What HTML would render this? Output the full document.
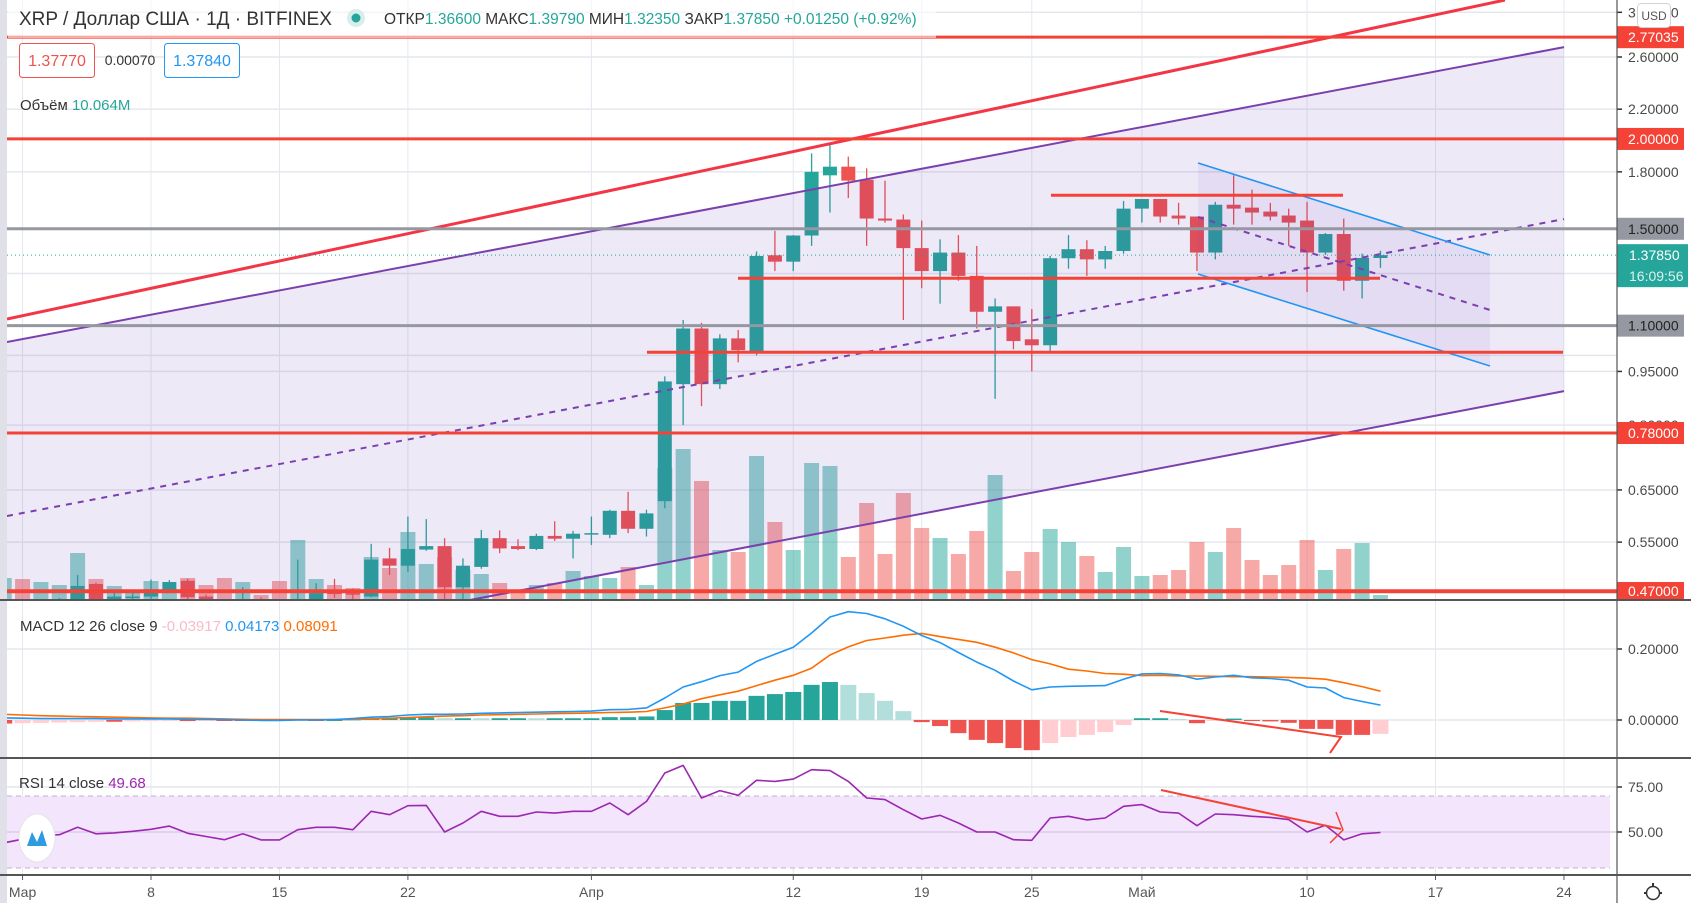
<!DOCTYPE html>
<html><head><meta charset="utf-8">
<style>
html,body{margin:0;padding:0;background:#fff;overflow:hidden}
svg{display:block;font-family:"Liberation Sans","DejaVu Sans",sans-serif}
</style></head>
<body>
<svg id="chart" width="1691" height="903" viewBox="0 0 1691 903" xmlns="http://www.w3.org/2000/svg">
  <defs>
    <clipPath id="mainClip"><rect x="7" y="0" width="1610" height="600"/></clipPath>
    <clipPath id="macdClip"><rect x="7" y="601" width="1610" height="157"/></clipPath>
    <clipPath id="rsiClip"><rect x="7" y="759" width="1610" height="116"/></clipPath>
  </defs>
  <rect x="0" y="0" width="1691" height="903" fill="#ffffff"/>
  <rect x="0" y="0" width="7" height="903" fill="#dfe0e8"/>
  <g id="gridLayer"></g>
  <g clip-path="url(#mainClip)">
    <g id="volLayer"></g>
    <g id="candleLayer"></g>
    <g id="drawLayer"></g>
  </g>
  <g clip-path="url(#macdClip)">
    <g id="macdLayer"></g>
  </g>
  <g clip-path="url(#rsiClip)">
    <g id="rsiLayer"></g>
  </g>
  <rect x="8" y="0" width="928" height="38" fill="#ffffff" opacity="0.55"/>
  <text x="19" y="25" font-size="19" fill="#333">XRP / Доллар США · 1Д · BITFINEX</text>
  <circle cx="356" cy="18" r="9" fill="#d9eeec"/>
  <circle cx="356" cy="18" r="4.5" fill="#26a69a"/>
  <text x="384" y="24" font-size="15.5" fill="#333">ОТКР<tspan fill="#26a69a">1.36600</tspan> МАКС<tspan fill="#26a69a">1.39790</tspan> МИН<tspan fill="#26a69a">1.32350</tspan> ЗАКР<tspan fill="#26a69a">1.37850</tspan> <tspan fill="#26a69a">+0.01250 (+0.92%)</tspan></text>
  <rect x="19.5" y="43.5" width="75" height="34" rx="3" fill="#fff" stroke="#ef5350"/>
  <text x="57" y="66" font-size="16" fill="#ef5350" text-anchor="middle">1.37770</text>
  <text x="130" y="65" font-size="14" fill="#333" text-anchor="middle">0.00070</text>
  <rect x="164.5" y="43.5" width="75" height="34" rx="3" fill="#fff" stroke="#2196f3"/>
  <text x="202" y="66" font-size="16" fill="#2196f3" text-anchor="middle">1.37840</text>
  <text x="20" y="110" font-size="15" fill="#333">Объём <tspan fill="#26a69a">10.064M</tspan></text>
  <text x="20" y="631" font-size="15" fill="#333">MACD 12 26 close 9 <tspan fill="#f8bbc8">-0.03917</tspan> <tspan fill="#2196f3">0.04173</tspan> <tspan fill="#ff6d00">0.08091</tspan></text>
  <text x="19" y="788" font-size="15" fill="#333">RSI 14 close <tspan fill="#9c27b0">49.68</tspan></text>
  <ellipse cx="37" cy="838" rx="18" ry="24" fill="#fff" stroke="#e4e4ea"/>
  <path d="M27 846 L32 832 L37 842 L42 830 L47 846 Z" fill="#2e9ae0"/>
  <rect x="1617" y="0" width="74" height="903" fill="#fff"/>
  <g id="axisLayer"></g>
  <line x1="1617" y1="0" x2="1617" y2="903" stroke="#555" stroke-width="1.2"/>
  <line x1="0" y1="600" x2="1691" y2="600" stroke="#555" stroke-width="2"/>
  <line x1="0" y1="758" x2="1691" y2="758" stroke="#555" stroke-width="2"/>
  <line x1="0" y1="875" x2="1691" y2="875" stroke="#555" stroke-width="2"/>
  <g id="timeLayer"></g>
  <rect x="1637.5" y="3.5" width="33" height="24" rx="4" fill="#fff" stroke="#d0d3da"/>
  <text x="1654" y="20" font-size="12" fill="#555" text-anchor="middle">USD</text>
  <g>
    <circle cx="1653" cy="893" r="6.5" fill="none" stroke="#333" stroke-width="1.5"/>
    <line x1="1653" y1="883" x2="1653" y2="886" stroke="#333" stroke-width="2"/>
    <line x1="1644" y1="893" x2="1646" y2="893" stroke="#333" stroke-width="2"/>
    <line x1="1660" y1="893" x2="1662" y2="893" stroke="#333" stroke-width="2"/>
  </g>
</svg>
<script>
const firstDay = -1;
const opens  = [.445,.450,.447,.452,.455,.481,.455,.460,.462,.472,.486,.462,.455,.448,.458,.450,.440,.456,.468,.467,.462,.522,.510,.537,.543,.476,.508,.557,.543,.538,.561,.556,.564,.563,.608,.574,.627,.912,1.09,.912,1.056,1.007,1.378,1.35,1.468,1.78,1.83,1.755,1.55,1.545,1.41,1.31,1.39,1.29,1.15,1.17,1.053,1.033,1.365,1.405,1.36,1.397,1.60,1.65,1.565,1.56,1.39,1.62,1.605,1.585,1.565,1.54,1.39,1.475,1.27,1.366];
const closes = [.450,.447,.452,.455,.478,.455,.462,.462,.473,.484,.461,.456,.450,.452,.456,.445,.458,.467,.466,.465,.520,.510,.538,.543,.476,.510,.557,.539,.538,.561,.556,.565,.566,.608,.574,.603,.920,1.09,.912,1.056,1.017,1.375,1.35,1.468,1.80,1.83,1.75,1.55,1.54,1.41,1.31,1.39,1.29,1.15,1.17,1.047,1.033,1.365,1.405,1.36,1.397,1.60,1.65,1.56,1.55,1.39,1.62,1.60,1.58,1.56,1.53,1.39,1.475,1.27,1.366,1.3785];
const highs  = [.456,.455,.458,.460,.495,.483,.472,.470,.488,.487,.489,.465,.458,.476,.461,.455,.520,.482,.489,.474,.547,.540,.597,.592,.557,.522,.572,.571,.555,.565,.588,.570,.597,.610,.646,.610,.935,1.12,1.11,1.07,1.085,1.395,1.49,1.47,1.91,1.97,1.89,1.82,1.75,1.57,1.54,1.45,1.47,1.42,1.20,1.17,1.16,1.375,1.47,1.446,1.42,1.64,1.65,1.65,1.63,1.56,1.635,1.78,1.70,1.63,1.60,1.635,1.48,1.55,1.385,1.398];
const lows   = [.440,.440,.440,.445,.450,.450,.450,.450,.455,.468,.455,.450,.440,.440,.445,.440,.430,.453,.460,.455,.461,.495,.500,.535,.455,.455,.505,.531,.536,.536,.552,.522,.545,.557,.566,.560,.613,.80,.85,.898,.978,1.0,1.31,1.31,1.42,1.58,1.655,1.42,1.53,1.12,1.24,1.18,1.27,1.09,.87,1.02,.95,1.01,1.32,1.29,1.32,1.385,1.53,1.53,1.52,1.31,1.36,1.52,1.52,1.54,1.42,1.225,1.38,1.23,1.20,1.3235];
const volumes = [44,42,36,30,94,42,28,20,38,22,44,30,44,36,10,38,120,42,30,24,86,64,136,72,86,60,52,34,20,30,34,58,48,44,66,30,264,302,238,100,96,288,156,100,274,268,86,194,92,214,144,124,92,138,250,58,96,142,116,88,56,106,48,50,60,116,96,144,80,50,70,120,60,102,114,10.064];
const macdLine = [0.006,0.005,0.004,0.004,0.004,0.004,0.003,0.003,0.003,0.003,0.002, 0.002,0.001,0.000,-0.001,-0.001,0.000,0.000,0.001, 0.004,0.008,0.010,0.014,0.016,0.016,0.017,0.019,0.020,0.021,0.022,0.023,0.024,0.025,0.029,0.030, 0.034,0.062,0.093,0.108,0.125,0.135,0.165,0.185,0.205,0.245,0.290,0.305,0.300,0.285,0.264,0.238,0.218,0.190,0.163,0.140,0.110, 0.085,0.093,0.095,0.096,0.097,0.115,0.130,0.131,0.127,0.115,0.121,0.126,0.119,0.117,0.112,0.093,0.090,0.063,0.052,0.042];
const signalLine = [0.016,0.014,0.012,0.011,0.010,0.009,0.008,0.007,0.006,0.005,0.005, 0.004,0.003,0.002,0.001,0.001,0.001,0.001,0.001, 0.002,0.003,0.005,0.007,0.009,0.011,0.012,0.014,0.015,0.016,0.017,0.018,0.019,0.020,0.021,0.022, 0.024,0.034,0.045,0.060,0.071,0.081,0.097,0.112,0.126,0.146,0.183,0.206,0.224,0.231,0.239,0.244,0.235,0.227,0.219,0.205,0.189, 0.170,0.158,0.143,0.138,0.131,0.129,0.125,0.126,0.124,0.124,0.123,0.122,0.122,0.121,0.120,0.118,0.115,0.105,0.094,0.081];
const rsiValues = [44,46,48,48.5,52.6,49,49.5,50.4,51.5,53.3,49.3,47.5,45.7,49,45.6,45.6,51.3,52.6,52.6,51.3,61.5,59.6,64.6,64.8,50,55,61.5,58.7,58.7,61.1,60.5,61.5,61.5,66.1,59.6,67,82.8,87,68.9,73,70.4,78.7,78.1,79.4,84.6,84.1,78.1,68.9,68,62.4,57.2,59.3,55,50,50,45.7,45.4,57.8,58.7,56.7,57.8,64.3,65.2,61.1,60.5,53.5,60,59.6,58.7,58.1,56.9,50,53.7,45.6,49,49.7];
const priceGrid = [3.0,2.6,2.2,1.8,1.3,1.0,0.95,0.8,0.65,0.55];
const priceTickLabels = ["2.60000","2.20000","1.80000","0.95000","0.65000","0.55000"];
const priceTickValues = [2.6,2.2,1.8,0.95,0.65,0.55];
const levelValues = [2.77035,2.0,1.5,1.1,0.78,0.47];
const levelLabels = ["2.77035","2.00000","1.50000","1.10000","0.78000","0.47000"];
const levelKinds = ["red","red","gray","gray","red","red"];
const macdTickValues = [0.2,0.0];
const macdTickLabels = ["0.20000","0.00000"];
const rsiTickValues = [75,50];
const rsiTickLabels = ["75.00","50.00"];
const timeLabels = ["Мар","8","15","22","Апр","12","19","25","Май","10","17","24"];
const timeDays = [0,7,14,21,31,42,49,55,61,70,77,84];
const lastPrice = 1.3785;

const NS = "http://www.w3.org/2000/svg";
function xd(d){ return 151 + (d - 7) * 18.35; }
function yP(p){ return 57 + (Math.log(2.6) - Math.log(p)) * 312.3; }
function yM(v){ return 720 - v * 355; }
function yR(r){ return 832 - (r - 50) * 1.8; }
function yV(v){ return 600 - v * 0.5; }
function mk(tag, attrs, parent){
  const e = document.createElementNS(NS, tag);
  for (const k in attrs) e.setAttribute(k, attrs[k]);
  parent.appendChild(e);
  return e;
}
const G = id => document.getElementById(id);

const grid = G('gridLayer');
timeDays.forEach(d => {
  const l = mk('line', {x1: xd(d), x2: xd(d), y1: 0, y2: 875, stroke: '#e4e8ee', 'stroke-width': 1}, grid);
  
  
});
priceGrid.forEach(p => {
  const l = mk('line', {x1: 7, x2: 1617, y1: yP(p), y2: yP(p), stroke: '#e4e8ee', 'stroke-width': 1.5}, grid);
  
  
});
macdTickValues.forEach(v => {
  const l = mk('line', {x1: 7, x2: 1617, y1: yM(v), y2: yM(v), stroke: '#e4e8ee', 'stroke-width': 1.5}, grid);
  
  
});
const band = mk('rect', {x: 7, y: yR(70), width: 1603, height: yR(30) - yR(70), fill: '#f3e5fc'}, grid);


rsiTickValues.forEach(v => {
  const l = mk('line', {x1: 7, x2: 1617, y1: yR(v), y2: yR(v), stroke: v === 50 ? '#dccbe8' : '#e4e8ee', 'stroke-width': 1.5}, grid);
  
  
});
[70, 30].forEach(v => {
  const l = mk('line', {x1: 7, x2: 1610, y1: yR(v), y2: yR(v), stroke: '#b8b8c0', 'stroke-width': 1, 'stroke-dasharray': '5 4'}, grid);
  
  
});

const vol = G('volLayer'), cnd = G('candleLayer');
opens.forEach((o, i) => {
  const d = firstDay + i, x = xd(d), c = closes[i], up = c >= o;
  const vb = mk('rect', {x: x - 7.5, y: yV(volumes[i]), width: 15, height: 600 - yV(volumes[i]), fill: up ? 'rgba(38,166,154,0.5)' : 'rgba(239,83,80,0.5)'}, vol);
  
  
  const col = up ? '#26a69a' : '#ef5350';
  const w = mk('line', {x1: x, x2: x, y1: yP(highs[i]), y2: yP(lows[i]), stroke: col, 'stroke-width': 1.3}, cnd);
  
  
  const top = yP(Math.max(o, c)), bot = yP(Math.min(o, c));
  const b = mk('rect', {x: x - 7, y: top, width: 14, height: Math.max(1.5, bot - top), fill: col}, cnd);
  
  
});

const dr = G('drawLayer');
function line(x1, y1, x2, y2, st, w, name, dash){
  const a = {x1, y1, x2, y2, stroke: st, 'stroke-width': w};
  if (dash) a['stroke-dasharray'] = dash;
  const l = mk('line', a, dr);
  
  
  return l;
}
const upY = x => 342 - (x - 7) * 0.1894;
const loY = x => 596 - (x - 491) * 0.1909;
const midY = x => 516 - (x - 7) * 0.1907;
const chFill = mk('polygon', {points: `7,${upY(7)} 1564,${upY(1564)} 1564,${loY(1564)} 7,${loY(7)}`, fill: 'rgba(103,58,183,0.11)'}, dr);


const bFill = mk('polygon', {points: '1198,163 1490,255 1490,366 1198,274', fill: 'rgba(103,58,183,0.07)'}, dr);



line(7, 319, 1505, 0, '#f23645', 3, 'red-trendline');
line(7, upY(7), 1564, upY(1564), '#7b3fae', 2, 'channel-upper-line');
line(7, loY(7), 1564, loY(1564), '#7b3fae', 2, 'channel-lower-line');
line(7, midY(7), 1564, midY(1564), '#7b3fae', 2, 'channel-middle-line', '6 6');
line(1198, 163, 1490, 255, '#2196f3', 1.6, 'desc-channel-upper');
line(1198, 274, 1490, 366, '#2196f3', 1.6, 'desc-channel-lower');
line(1198, 217, 1490, 310, '#7b3fae', 2, 'desc-channel-middle', '6 6');

levelValues.forEach((v, i) => {
  const red = levelKinds[i] === 'red';
  line(7, yP(v), 1617, yP(v), red ? '#f44336' : '#9598a1', v === 0.47 ? 4 : 3, 'horizontal-level');
});
line(647, yP(1.01), 1563, yP(1.01), '#f44336', 3, 'support-line-101');
line(738, yP(1.28), 1380, yP(1.28), '#f44336', 3, 'support-line-128');
line(1051, yP(1.67), 1343, yP(1.67), '#f44336', 3, 'resistance-line-167');
line(7, yP(lastPrice), 1617, yP(lastPrice), '#26a69a', 1, 'last-price-line', '1 3');

const mc = G('macdLayer');
macdLine.forEach((m, i) => {
  const h = m - signalLine[i];
  const prev = i > 0 ? macdLine[i - 1] - signalLine[i - 1] : h;
  let col;
  if (h >= 0) col = h >= prev ? '#26a69a' : '#b2dfdb';
  else col = h <= prev ? '#ef5350' : '#ffcdd2';
  const x = xd(firstDay + i);
  const y0 = yM(0), y1 = yM(h);
  const r = mk('rect', {x: x - 8, y: Math.min(y0, y1), width: 16, height: Math.max(1, Math.abs(y1 - y0)), fill: col}, mc);
  
  
});
function poly(vals, fy, col, w, parent, name){
  const pts = vals.map((v, i) => xd(firstDay + i).toFixed(1) + ',' + fy(v).toFixed(1)).join(' ');
  const p = mk('polyline', {points: pts, fill: 'none', stroke: col, 'stroke-width': w, 'stroke-linejoin': 'round'}, parent);
  
  
}
poly(signalLine, yM, '#ff6d00', 1.6, mc, 'macd-signal-line');
poly(macdLine, yM, '#2196f3', 1.6, mc, 'macd-line');
const ma1 = mk('polyline', {points: '1160,711 1341,737 1330,753', fill: 'none', stroke: '#f44336', 'stroke-width': 2}, mc);



const rs = G('rsiLayer');
poly(rsiValues, yR, '#9c27b0', 1.6, rs, 'rsi-line');
const ra1 = mk('polyline', {points: '1161,790 1341,829', fill: 'none', stroke: '#f44336', 'stroke-width': 2}, rs);


const ra2 = mk('polyline', {points: '1336,812 1343,830 1330,843', fill: 'none', stroke: '#f44336', 'stroke-width': 1.5}, rs);



const ax = G('axisLayer');
function tick(y, label, name){
  const t = mk('line', {x1: 1617, x2: 1622, y1: y, y2: y, stroke: '#333', 'stroke-width': 1.5}, ax);
  
  
  const tx = mk('text', {x: 1628, y: y + 5, 'font-size': 14, fill: '#4a4a4a'}, ax);
  tx.textContent = label;
  
  
}
tick(yP(3.0), '3.00000', 'price-tick-label');
tick(yP(0.8), '0.80000', 'price-tick-label');
priceTickValues.forEach((v, i) => tick(yP(v), priceTickLabels[i], 'price-tick-label'));
macdTickValues.forEach((v, i) => tick(yM(v), macdTickLabels[i], 'macd-tick-label'));
rsiTickValues.forEach((v, i) => tick(yR(v), rsiTickLabels[i], 'rsi-tick-label'));
levelValues.forEach((v, i) => {
  const y = yP(v), red = levelKinds[i] === 'red';
  const r = mk('rect', {x: 1617, y: v === 0.47 ? 582 : y - 11, width: 67, height: v === 0.47 ? 18 : 22, fill: red ? '#f44336' : '#9598a1'}, ax);
  
  
  const tx = mk('text', {x: 1628, y: (v === 0.47 ? 591 : y) + 5, 'font-size': 14, fill: red ? '#fff' : '#222'}, ax);
  tx.textContent = levelLabels[i];
  
  
});
const lp = mk('rect', {x: 1617, y: yP(lastPrice) - 11, width: 71, height: 43, fill: '#26a69a'}, ax);


const lpt = mk('text', {x: 1629, y: yP(lastPrice) + 5, 'font-size': 14, fill: '#fff'}, ax);
lpt.textContent = lastPrice.toFixed(5);


const cd = mk('text', {x: 1629, y: yP(lastPrice) + 26, 'font-size': 14, fill: '#d9f2ef'}, ax);
cd.textContent = '16:09:56';



const tl = G('timeLayer');
timeLabels.forEach((s, i) => {
  const x = xd(timeDays[i]);
  const t = mk('line', {x1: x, x2: x, y1: 875, y2: 880, stroke: '#555', 'stroke-width': 1}, tl);
  
  
  const tx = mk('text', {x: x, y: 897, 'font-size': 14, fill: '#555', 'text-anchor': 'middle'}, tl);
  tx.textContent = s;
  
  
});
</script>
</body></html>
